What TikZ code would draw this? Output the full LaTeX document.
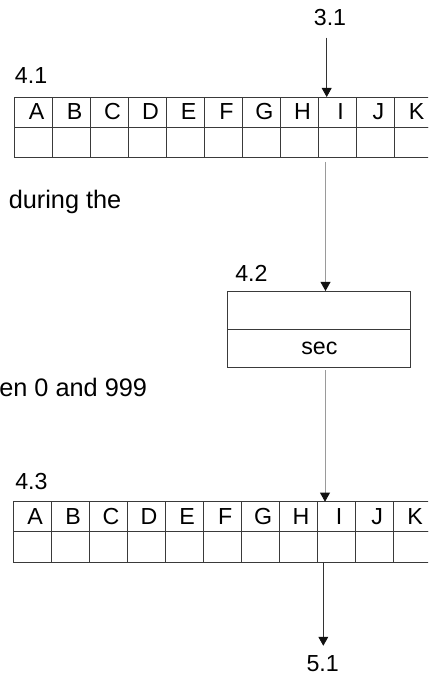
\documentclass[tikz,border=0pt]{standalone}
\usepackage{fontspec}
\setmainfont{Liberation Sans}
\usepackage{tikz}
\usetikzlibrary{positioning, arrows.meta}
\definecolor{gridDark}{HTML}{3A3A3A}
\definecolor{flowGray}{HTML}{9A9A9A}
\definecolor{flowDark}{HTML}{333333}
\definecolor{tipBlack}{HTML}{111111}

\begin{document}
\begin{tikzpicture}[x=0.025cm, y=-0.025cm,
  cell/.style={draw=gridDark, line width=0.6pt, minimum width=0.95cm, minimum height=0.75cm,
    inner sep=0pt, outer sep=0pt, font=\fontsize{16.5}{19}\selectfont},
  slot/.style={draw=gridDark, line width=0.6pt, minimum width=4.57cm, minimum height=0.95cm,
    inner sep=0pt, outer sep=0pt, font=\fontsize{16.5}{19}\selectfont},
  tag/.style={font=\fontsize{16.5}{19}\selectfont, inner sep=0pt},
  note/.style={font=\fontsize{18}{22}\selectfont, inner sep=0pt, anchor=base west},
  flow/.style={line width=0.6pt, draw=flowGray,
    -{Triangle[length=6.4pt, width=7pt, color=tipBlack]}}]
  \useasboundingbox (0,0) rectangle (428,676);
  \clip (0,0) rectangle (428,676);

  % left-hand notes, cut by the page edge
  \node[note] (noteA) at (8.5,208) {during the};
  \node[note] (noteB) at (-1,396) {en 0 and 999};

  % table 4.1
  \node[tag, anchor=west] (lbl41) at (14.7,76) {4.1};
  \foreach \c [count=\i from 0] in {A,B,C,D,E,F,G,H,I,J,K} {
    \node[cell] (ta-\i) at ({33.7+38*\i},112) {\hspace{4pt}\c};
    \node[cell] (tb-\i) at ({33.7+38*\i},142) {};
  }

  % seconds field 4.2
  \node[tag, anchor=west] (lbl42) at (235,273) {4.2};
  \node[slot] (secTop) at (319.3,310) {};
  \node[slot] (secBot) at (319.3,348) {sec};

  % table 4.3
  \node[tag, anchor=west] (lbl43) at (15,482) {4.3};
  \foreach \c [count=\i from 0] in {A,B,C,D,E,F,G,H,I,J,K} {
    \node[cell] (tc-\i) at ({32.3+38*\i},516.7) {\hspace{4pt}\c};
    \node[cell, minimum height=0.765cm] (td-\i) at ({32.3+38*\i},547) {};
  }

  \node[tag] (lbl31) at (330,18) {3.1};
  \node[tag] (lbl51) at (322.7,664) {5.1};

  % connection points on the I column
  \coordinate (inA) at (326.7,97);
  \coordinate (outA) at (325.5,157);
  \coordinate (outS) at (325,366.7);
  \coordinate (inC) at (325,501.7);
  \coordinate (outC) at (323.3,562.3);

  \draw[flow, draw=flowDark, shorten <=8pt] (lbl31.south -| inA) -- (inA);
  \draw[flow, shorten <=3.5pt] (outA) -- (secTop.north -| outA);
  \draw[flow, shorten <=2.5pt] (outS) -- (inC);
  \draw[flow, draw=flowDark, shorten >=7pt] (outC) -- (lbl51.north -| outC);
\end{tikzpicture}
\end{document}
